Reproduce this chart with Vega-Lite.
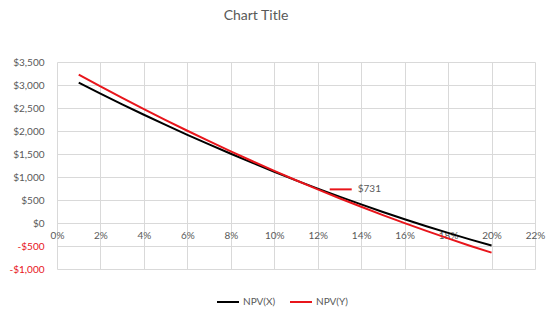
{
  "$schema": "https://vega.github.io/schema/vega-lite/v6.json",
  "autosize": {"type": "none"},
  "width": 478,
  "height": 207,
  "padding": {"left": 57, "top": 62, "right": 25, "bottom": 52},
  "background": "white",
  "title": {"text": "Chart Title", "anchor": "middle", "offset": 34, "dx": -40, "fontSize": 14, "font": "Lato", "fontWeight": "normal", "color": "#595959"},
  "config": {
    "view": {"stroke": null},
    "axis": {"labelFont": "Lato", "labelFontSize": 10, "labelColor": "#595959", "gridColor": "#d9d9d9", "gridWidth": 1, "ticks": false, "domain": false, "title": null, "labelOverlap": false, "labelFlush": false},
    "legend": {"labelFont": "Lato", "labelFontSize": 10, "labelColor": "#595959"}
  },
  "datasets": {
    "npv": [
      {"rate": 0.01, "series": "NPV(X)", "npv": 3050}, {"rate": 0.02, "series": "NPV(X)", "npv": 2812},
      {"rate": 0.03, "series": "NPV(X)", "npv": 2580}, {"rate": 0.04, "series": "NPV(X)", "npv": 2353},
      {"rate": 0.05, "series": "NPV(X)", "npv": 2132}, {"rate": 0.06, "series": "NPV(X)", "npv": 1917},
      {"rate": 0.07, "series": "NPV(X)", "npv": 1708}, {"rate": 0.08, "series": "NPV(X)", "npv": 1505},
      {"rate": 0.09, "series": "NPV(X)", "npv": 1307}, {"rate": 0.10, "series": "NPV(X)", "npv": 1115},
      {"rate": 0.11, "series": "NPV(X)", "npv": 928}, {"rate": 0.12, "series": "NPV(X)", "npv": 748},
      {"rate": 0.13, "series": "NPV(X)", "npv": 573}, {"rate": 0.14, "series": "NPV(X)", "npv": 404},
      {"rate": 0.15, "series": "NPV(X)", "npv": 240}, {"rate": 0.16, "series": "NPV(X)", "npv": 83},
      {"rate": 0.17, "series": "NPV(X)", "npv": -69}, {"rate": 0.18, "series": "NPV(X)", "npv": -215},
      {"rate": 0.19, "series": "NPV(X)", "npv": -356}, {"rate": 0.20, "series": "NPV(X)", "npv": -490},
      {"rate": 0.01, "series": "NPV(Y)", "npv": 3224}, {"rate": 0.02, "series": "NPV(Y)", "npv": 2969},
      {"rate": 0.03, "series": "NPV(Y)", "npv": 2719}, {"rate": 0.04, "series": "NPV(Y)", "npv": 2475},
      {"rate": 0.05, "series": "NPV(Y)", "npv": 2237}, {"rate": 0.06, "series": "NPV(Y)", "npv": 2005},
      {"rate": 0.07, "series": "NPV(Y)", "npv": 1778}, {"rate": 0.08, "series": "NPV(Y)", "npv": 1558},
      {"rate": 0.09, "series": "NPV(Y)", "npv": 1342}, {"rate": 0.10, "series": "NPV(Y)", "npv": 1133},
      {"rate": 0.11, "series": "NPV(Y)", "npv": 929}, {"rate": 0.12, "series": "NPV(Y)", "npv": 731},
      {"rate": 0.13, "series": "NPV(Y)", "npv": 539}, {"rate": 0.14, "series": "NPV(Y)", "npv": 353},
      {"rate": 0.15, "series": "NPV(Y)", "npv": 172}, {"rate": 0.16, "series": "NPV(Y)", "npv": -3},
      {"rate": 0.17, "series": "NPV(Y)", "npv": -172}, {"rate": 0.18, "series": "NPV(Y)", "npv": -335},
      {"rate": 0.19, "series": "NPV(Y)", "npv": -493}, {"rate": 0.20, "series": "NPV(Y)", "npv": -645}
    ],
    "label": [{"rate": 0.12, "npv": 731, "text": "$731"}]
  },
  "layer": [
    {
      "data": {"name": "npv"},
      "mark": {"type": "line", "strokeWidth": 2},
      "encoding": {
        "x": {"field": "rate", "type": "quantitative", "scale": {"domain": [0, 0.22], "nice": false},
          "axis": {"values": [0, 0.02, 0.04, 0.06, 0.08, 0.1, 0.12, 0.14, 0.16, 0.18, 0.2, 0.22], "format": ".0%", "grid": true, "offset": -46, "labelPadding": 7, "labelOverlap": false, "tickCount": 20}},
        "y": {"field": "npv", "type": "quantitative", "scale": {"domain": [-1000, 3500], "nice": false},
          "axis": {"values": [-1000, -500, 0, 500, 1000, 1500, 2000, 2500, 3000, 3500], "grid": true, "labelPadding": 13, "labelOverlap": false, "labelBound": false, "labelFlush": false, "tickCount": 20,
            "labelExpr": "(datum.value < 0 ? '-' : '') + '$' + format(abs(datum.value), ',.0f')",
            "labelColor": {"condition": {"test": "datum.value < 0", "value": "#e8151b"}, "value": "#595959"}}},
        "color": {"field": "series", "type": "nominal", "scale": {"domain": ["NPV(X)", "NPV(Y)"], "range": ["#000000", "#e8151b"]},
          "legend": {"title": null, "orient": "none", "legendX": 159, "legendY": 228, "direction": "horizontal", "symbolType": "stroke", "symbolSize": 484, "symbolStrokeWidth": 2, "labelOffset": 3, "columnPadding": 10}}
      }
    },
    {
      "data": {"name": "label"},
      "mark": {"type": "point", "shape": "M0.545,0H1.545", "size": 1936, "stroke": "#e8151b", "strokeWidth": 2, "filled": false, "opacity": 1},
      "encoding": {
        "x": {"field": "rate", "type": "quantitative"},
        "y": {"field": "npv", "type": "quantitative"}
      }
    },
    {
      "data": {"name": "label"},
      "mark": {"type": "text", "dx": 40, "align": "left", "baseline": "middle", "font": "Lato", "fontSize": 10, "color": "#595959"},
      "encoding": {
        "x": {"field": "rate", "type": "quantitative"},
        "y": {"field": "npv", "type": "quantitative"},
        "text": {"field": "text"}
      }
    }
  ]
}
